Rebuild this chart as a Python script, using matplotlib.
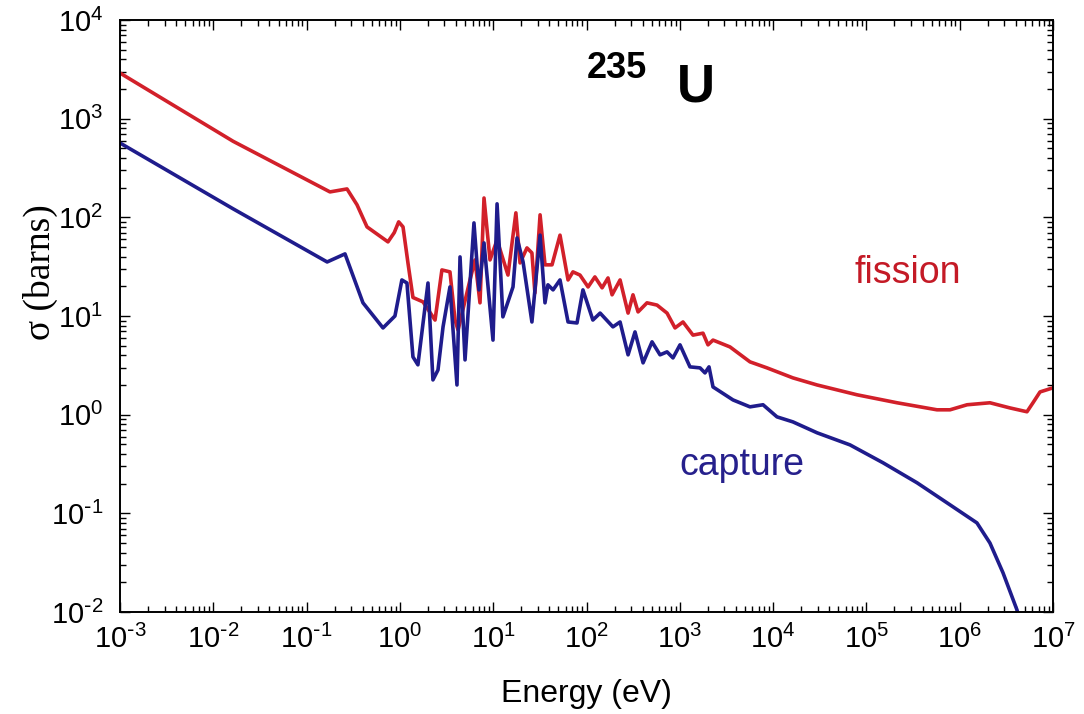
import numpy as np
import matplotlib
matplotlib.use("Agg")
import matplotlib.pyplot as plt
from matplotlib.ticker import LogLocator, NullFormatter, FuncFormatter

plt.rcParams['font.family'] = ['Liberation Sans', 'DejaVu Sans']
plt.rcParams['mathtext.default'] = 'regular'
plt.rcParams['axes.unicode_minus'] = False

# fission cross section of U-235, energy (eV) vs sigma (barns)
fission_e = [1e-3, 0.0163, 0.178, 0.271, 0.347, 0.444, 0.745, 0.87, 0.97,
             1.08, 1.22, 1.38, 1.77, 2.38, 2.82, 3.44, 3.90, 4.20, 5.64,
             6.38, 7.22, 7.97, 9.24, 11.0, 14.4, 17.5, 19.4, 23.0, 26.0,
             28.0, 31.8, 35.9, 42.7, 52.0, 63.4, 71.6, 85.1, 104, 123, 147,
             170, 188, 229, 279, 315, 357, 445, 570, 730, 889, 1082, 1385,
             1773, 2005, 2270, 3450, 5650, 8600, 1.63e4, 2.96e4, 7.94e4,
             2.13e5, 5.71e5, 7.87e5, 1.20e6, 2.11e6, 3.46e6, 5.26e6, 6.1e6,
             7.26e6, 1e7]
fission_s = [2900, 590, 181, 194, 134, 80, 56.4, 70, 90,
             80, 34.5, 15.4, 13.9, 9.1, 29.3, 28.0, 9.1, 7.2, 23.2,
             37.0, 13.6, 157, 37, 59, 26, 111, 34.5, 49, 43.6,
             17.1, 106, 33, 33, 66, 23.2, 28, 26, 19.7, 24.9, 19.3,
             24.3, 16.4, 23.2, 10.7, 16.4, 11.0, 13.6, 12.9, 10.7, 7.57, 8.7, 6.4,
             6.7, 5.1, 5.7, 4.86, 3.43, 2.98, 2.36, 2.00, 1.59,
             1.32, 1.12, 1.12, 1.26, 1.32, 1.17, 1.07, 1.32,
             1.70, 1.87]

# radiative capture cross section
capture_e = [1e-3, 0.0163, 0.166, 0.258, 0.402, 0.659, 0.885, 1.05, 1.19,
             1.38, 1.56, 2.0, 2.26, 2.56, 2.90, 3.44, 4.09, 4.41, 4.99,
             6.22, 7.04, 7.97, 9.95, 11.0, 12.7, 16.3, 18.0, 20.9, 26.0,
             31.8, 35.9, 38.6, 43.8, 52, 63.4, 79.1, 91.6, 117, 140, 192,
             229, 279, 331, 404, 504, 614, 730, 845, 1005, 1285, 1648,
             1862, 2056, 2270, 3720, 5650, 7800, 1.1e4, 1.63e4, 2.96e4,
             6.67e4, 1.51e5, 3.49e5, 7.87e5, 1.53e6, 2.11e6, 2.91e6, 4.11e6,
             4.6e6]
capture_s = [567, 122, 35.3, 42.6, 13.6, 7.57, 10, 23.2, 21.6,
             3.85, 3.2, 21.6, 2.25, 2.84, 7.76, 19.7, 2.0, 39.7, 3.59,
             87.8, 18.4, 55, 5.7, 137, 9.8, 19.7, 61.8, 35.3, 8.7,
             66, 13.6, 20.7, 18.4, 23.2, 8.7, 8.5, 18.4, 9.1, 10.7, 7.76,
             8.7, 4.04, 6.9, 3.35, 5.47, 4.04, 4.33, 3.76, 5.1, 3.05, 2.98,
             2.65, 3.05, 1.91, 1.41, 1.20, 1.26, 0.95, 0.845, 0.655,
             0.494, 0.325, 0.204, 0.122, 0.080, 0.050, 0.025, 0.0105,
             0.007]

x_decades = list(range(-3, 8))
y_decades = list(range(-2, 5))

red = '#d2202a'
navy = '#1f1c8c'


def decade(v, pos):
    # 10^n with a short hyphen for negative powers
    n = int(round(np.log10(v)))
    if n < 0:
        return r'$10^{\text{-}%d}$' % (-n)
    return r'$10^{%d}$' % n


def main():
    fig = plt.figure(figsize=(10.84, 7.14), dpi=100)
    ax = fig.add_axes([120 / 1084, 1 - 612 / 714, 933 / 1084, 592 / 714])

    ax.plot(fission_e, fission_s, color=red, lw=2.6)
    ax.plot(capture_e, capture_s, color=navy, lw=2.6)

    ax.set_xscale('log')
    ax.set_yscale('log')
    ax.set_xticks([10.0 ** k for k in x_decades])
    ax.set_yticks([10.0 ** k for k in y_decades])
    ax.set_xlim(1e-3, 1e7)
    ax.set_ylim(1e-2, 1e4)

    for axis in (ax.xaxis, ax.yaxis):
        axis.set_major_formatter(FuncFormatter(decade))
        axis.set_minor_locator(LogLocator(base=10, subs=np.arange(2, 10), numticks=200))
        axis.set_minor_formatter(NullFormatter())

    ax.tick_params(which='both', direction='in', top=True, right=True, width=1)
    ax.tick_params(which='major', length=7, labelsize=21)
    ax.tick_params(axis='x', which='major', pad=9)
    ax.tick_params(axis='y', which='major', pad=12)
    ax.tick_params(which='minor', length=4)
    for sp in ax.spines.values():
        sp.set_linewidth(1.4)

    ax.set_xlabel('Energy (eV)', fontsize=23, labelpad=18)
    ax.set_ylabel('σ (barns)', fontsize=27, family=['Liberation Serif', 'DejaVu Serif'])
    ax.yaxis.set_label_coords(-0.066, 0.574)

    fig.text(587 / 1084, 1 - 78 / 714, '235', fontsize=26, fontweight='bold',
             ha='left', va='baseline')
    fig.text(677 / 1084, 1 - 102 / 714, 'U', fontsize=38, fontweight='bold',
             ha='left', va='baseline')
    fig.text(908 / 1084, 1 - 283 / 714, 'fission', fontsize=27, color='#c41a26',
             ha='center', va='baseline')
    fig.text(742 / 1084, 1 - 475 / 714, 'capture', fontsize=27, color='#26208c',
             ha='center', va='baseline')

    fig.savefig('out.png', dpi=100)


if __name__ == "__main__":
    main()
